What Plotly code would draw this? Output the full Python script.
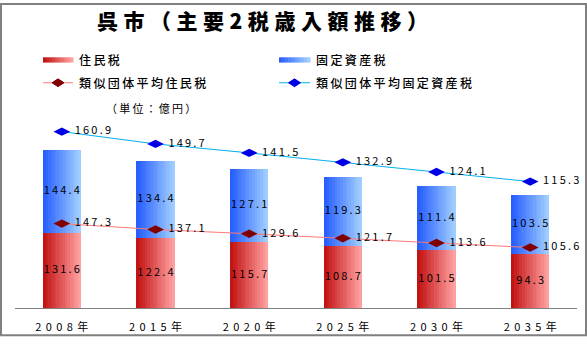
import plotly.graph_objects as go

# ---- data (億円) ----
years = ["2008年", "2015年", "2020年", "2025年", "2030年", "2035年"]
juminzei = [131.6, 122.4, 115.7, 108.7, 101.5, 94.3]          # 住民税
kotei = [144.4, 134.4, 127.1, 119.3, 111.4, 103.5]            # 固定資産税
avg_juminzei = [147.3, 137.1, 129.6, 121.7, 113.6, 105.6]     # 類似団体平均住民税
avg_kotei = [160.9, 149.7, 141.5, 132.9, 124.1, 115.3]        # 類似団体平均固定資産税

W, H = 587, 344
ML, MR, MT, MB = 15, 10, 108, 30
PW, PH = W - ML - MR, H - MT - MB

FONT = "Noto Sans CJK JP"


def spaced(s, gap="\u2009"):
    """Widen the letter spacing with thin spaces."""
    return gap.join(s)


def px(x):
    return (x - ML) / PW


def py(y):
    return (H - MB - y) / PH


def lerp(c0, c1, t):
    return "rgb(%d,%d,%d)" % tuple(round(a + (b - a) * t) for a, b in zip(c0, c1))


RED0, RED1 = (195, 20, 20), (255, 160, 160)
BLUE0, BLUE1 = (40, 95, 255), (160, 205, 255)

fig = go.Figure()

# gradient bars built from vertical slices
N = 14
BW = 0.406
sw = BW / N
for i in range(N):
    t = i / (N - 1)
    fig.add_trace(go.Bar(
        x=years, y=juminzei, base=0, width=sw, offset=-BW / 2 + i * sw,
        marker=dict(color=lerp(RED0, RED1, t), line=dict(width=0)),
        showlegend=False, hoverinfo="skip"))
    fig.add_trace(go.Bar(
        x=years, y=kotei, base=juminzei, width=sw, offset=-BW / 2 + i * sw,
        marker=dict(color=lerp(BLUE0, BLUE1, t), line=dict(width=0)),
        showlegend=False, hoverinfo="skip"))

# value labels centred in each bar segment
fig.add_trace(go.Scatter(
    x=years, y=[v / 2 for v in juminzei], mode="text",
    text=[spaced(f"{v:.1f}") for v in juminzei],
    textfont=dict(family=FONT, size=11, color="black"),
    showlegend=False, hoverinfo="skip"))
fig.add_trace(go.Scatter(
    x=years, y=[a + b / 2 for a, b in zip(juminzei, kotei)], mode="text",
    text=[spaced(f"{v:.1f}") for v in kotei],
    textfont=dict(family=FONT, size=11, color="black"),
    showlegend=False, hoverinfo="skip"))

# average lines (labels set a little off the markers)
fig.add_trace(go.Scatter(
    x=years, y=avg_juminzei, mode="lines+markers+text", cliponaxis=False,
    line=dict(color="#FF7878", width=1),
    marker=dict(symbol="diamond-wide", size=12, color="#800000"),
    text=["\u2009\u2009" + spaced(f"{v:.1f}") for v in avg_juminzei],
    textposition="middle right",
    textfont=dict(family=FONT, size=11, color="black"),
    showlegend=False, hoverinfo="skip"))
fig.add_trace(go.Scatter(
    x=years, y=avg_kotei, mode="lines+markers+text", yaxis="y2", cliponaxis=False,
    line=dict(color="#00B0F0", width=1),
    marker=dict(symbol="diamond-wide", size=12, color="#0000E6"),
    text=["\u2009\u2009" + spaced(f"{v:.1f}") for v in avg_kotei],
    textposition="middle right",
    textfont=dict(family=FONT, size=11, color="black"),
    showlegend=False, hoverinfo="skip"))

shapes = []
annotations = []

# frame around the whole chart
shapes.append(dict(type="rect", xref="paper", yref="paper",
                   x0=px(1), x1=px(586), y0=py(342), y1=py(1),
                   line=dict(color="#808080", width=2), layer="above"))


# legend keys
def grad_key(x0, x1, yc, c0, c1, n=10):
    step = (x1 - x0) / n
    for k in range(n):
        shapes.append(dict(type="rect", xref="paper", yref="paper",
                           x0=px(x0 + k * step), x1=px(x0 + (k + 1) * step + 0.5),
                           y0=py(yc + 2.7), y1=py(yc - 2.7),
                           fillcolor=lerp(c0, c1, k / (n - 1)), line=dict(width=0)))


def line_key(x0, x1, yc, lc, mc):
    shapes.append(dict(type="line", xref="paper", yref="paper",
                       x0=px(x0), x1=px(x1), y0=py(yc), y1=py(yc),
                       line=dict(color=lc, width=1)))
    xm = (x0 + x1) / 2
    path = "M {} {} L {} {} L {} {} L {} {} Z".format(
        px(xm - 6), py(yc), px(xm), py(yc - 4), px(xm + 6), py(yc), px(xm), py(yc + 4))
    shapes.append(dict(type="path", xref="paper", yref="paper", path=path,
                       fillcolor=mc, line=dict(color=mc, width=1)))


def label(x, y, s, size=12, xanchor="left", weight="normal"):
    annotations.append(dict(
        x=px(x), y=py(y), xref="paper", yref="paper", text=s, showarrow=False,
        xanchor=xanchor, yanchor="middle",
        font=dict(family=FONT, size=size, color="black", weight=weight)))


grad_key(43, 73, 58.5, RED0, RED1)
label(77, 58.5, spaced("住民税"), weight=500)
grad_key(279, 310, 58.5, BLUE0, BLUE1)
label(314, 58.5, spaced("固定資産税"), weight=500)
line_key(43, 73, 82, "#FF7878", "#800000")
label(77, 82, spaced("類似団体平均住民税"), weight=500)
line_key(279, 310, 82, "#00B0F0", "#0000E6")
label(314, 82, spaced("類似団体平均固定資産税"), weight=500)

label(151, 108, spaced("（単位：億円）"), size=11, xanchor="center")
label(262, 17, spaced("呉市（主要2税歳入額推移）", "\u2009\u200a"), size=21,
      xanchor="center", weight=900)

fig.update_layout(
    width=W, height=H,
    margin=dict(l=ML, r=MR, t=MT, b=MB),
    paper_bgcolor="white", plot_bgcolor="white",
    barmode="overlay", bargap=0,
    showlegend=False,
    font=dict(family=FONT, size=11, color="black"),
    xaxis=dict(
        type="category", tickvals=years,
        ticktext=[spaced(y, "\u2009\u2009") for y in years],
        showline=True, linecolor="#808080", linewidth=1,
        showgrid=False, ticks="outside", ticklen=9, tickcolor="rgba(0,0,0,0)",
        tickfont=dict(family=FONT, size=11, color="black"),
        range=[-0.5, 5.5], fixedrange=True),
    yaxis=dict(range=[0, PH / 0.59], visible=False, showgrid=False, fixedrange=True),
    yaxis2=dict(range=[0, PH / 1.129], overlaying="y", visible=False,
                showgrid=False, fixedrange=True),
    shapes=shapes,
    annotations=annotations,
)

fig.write_html("out.html")
